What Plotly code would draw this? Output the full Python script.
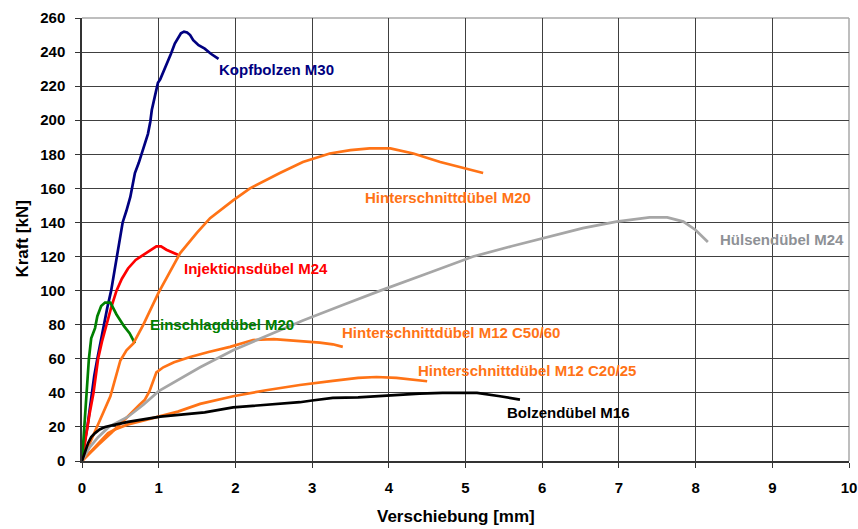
import plotly.graph_objects as go

# ---- data (Verschiebung [mm], Kraft [kN]) ----
kopf_x = [0, 0.03, 0.07, 0.1, 0.13, 0.16, 0.2, 0.24, 0.28, 0.33, 0.38, 0.42, 0.45, 0.49, 0.53, 0.58, 0.63, 0.66, 0.69, 0.74, 0.78, 0.82, 0.86, 0.89, 0.91, 0.95, 0.99, 1.02, 1.07, 1.12, 1.16, 1.21, 1.25, 1.29, 1.33, 1.37, 1.41, 1.45, 1.52, 1.6, 1.68, 1.78]
kopf_y = [0, 10, 20, 30, 40, 50, 60, 70, 80, 90, 100, 110, 120, 130, 140, 147, 155, 162, 169, 175, 181, 186, 192, 199, 206, 214, 222, 224, 229, 234, 239, 245, 248, 251, 252, 251.5, 250, 247, 244, 242, 239, 236]

inj_x = [0, 0.05, 0.1, 0.15, 0.21, 0.26, 0.32, 0.38, 0.45, 0.52, 0.6, 0.7, 0.8, 0.9, 0.97, 1.03, 1.1, 1.25]
inj_y = [0, 15, 28, 40, 60, 70, 80, 90, 100, 107, 113, 118, 121, 124, 126, 126, 124, 121]

ein_x = [0, 0.03, 0.06, 0.09, 0.12, 0.17, 0.2, 0.25, 0.3, 0.37, 0.45, 0.55, 0.62, 0.69]
ein_y = [0, 20, 40, 60, 72, 78, 85, 91, 93, 93, 86, 79, 75, 69]

hm20_x = [0, 0.12, 0.25, 0.37, 0.5, 0.58, 0.67, 0.8, 1.0, 1.28, 1.5, 1.67, 1.97, 2.19, 2.58, 2.88, 3.23, 3.5, 3.75, 4.02, 4.32, 4.67, 5.23]
hm20_y = [0, 12, 26, 38, 59, 65, 69, 80, 99, 122, 134, 142.5, 153, 160, 169, 175.5, 180.5, 182.5, 183.5, 183.5, 180.5, 175.5, 169]

c50_x = [0, 0.1, 0.21, 0.38, 0.51, 0.64, 0.75, 0.82, 0.88, 0.93, 0.97, 1.06, 1.2, 1.41, 1.65, 1.93, 2.23, 2.5, 2.84, 3.1, 3.27, 3.4]
c50_y = [0, 4.5, 9.4, 16.4, 22, 28, 33, 36, 41, 47, 52, 55, 58, 61, 64, 67, 71, 71.5, 70.5, 69.5, 68.5, 67]

c20_x = [0, 0.12, 0.25, 0.34, 0.43, 0.6, 0.82, 1.02, 1.25, 1.54, 1.97, 2.4, 2.84, 3.27, 3.6, 3.84, 4.1, 4.5]
c20_y = [0, 6, 12, 16.4, 18.5, 21.5, 24, 26.5, 29, 33.5, 38, 41.5, 44.6, 47, 48.8, 49.3, 48.8, 46.8]

hul_x = [0, 0.1, 0.21, 0.35, 0.6, 0.8, 1.0, 1.54, 1.97, 2.5, 2.88, 3.4, 3.89, 4.5, 5.1, 5.6, 6.06, 6.53, 6.97, 7.4, 7.63, 7.84, 8.0, 8.16]
hul_y = [0, 8, 14, 20, 26, 33, 41, 55, 65, 75, 82.5, 91.5, 100, 110, 120, 126, 131.5, 136.7, 140.5, 143, 143, 140.5, 135.6, 128.5]

bol_x = [0, 0.04, 0.08, 0.12, 0.17, 0.23, 0.3, 0.45, 0.6, 1.02, 1.25, 1.6, 1.97, 2.4, 2.84, 3.0, 3.27, 3.6, 4.02, 4.4, 4.7, 5.15, 5.45, 5.71]
bol_y = [0, 6, 10.6, 14, 16.4, 18.5, 20, 21.5, 23, 26, 27, 28.5, 31.5, 33, 34.5, 35.5, 37, 37.3, 38.5, 39.5, 40, 40, 38, 36]

series_names = ["Kopfbolzen M30", "Injektionsdübel M24", "Einschlagdübel M20",
                "Hinterschnittdübel M20", "Hinterschnittdübel M12 C50/60",
                "Hinterschnittdübel M12 C20/25", "Hülsendübel M24", "Bolzendübel M16"]

x_ticks = list(range(0, 11))
y_ticks = list(range(0, 261, 20))

ORANGE = "#FF7316"
series = [
    (kopf_x, kopf_y, "#000080", "#000080", (1.76, 230)),
    (inj_x, inj_y, "#FF0000", "#FF0000", (1.31, 113)),
    (ein_x, ein_y, "#008000", "#008000", (0.857, 80)),
    (hm20_x, hm20_y, ORANGE, ORANGE, (3.66, 154.5)),
    (c50_x, c50_y, ORANGE, ORANGE, (3.37, 75.3)),
    (c20_x, c20_y, ORANGE, ORANGE, (4.36, 53.4)),
    (hul_x, hul_y, "#A6A6A6", "#8E9196", (8.29, 130)),
    (bol_x, bol_y, "#000000", "#000000", (5.51, 28.3)),
]

FONT = "Liberation Sans, Arial"
fig = go.Figure()
annotations = []
for name, (xs, ys, col, tcol, (lx, ly)) in zip(series_names, series):
    fig.add_trace(go.Scatter(x=xs, y=ys, mode="lines", name=name,
                             line=dict(color=col, width=2.7), showlegend=False))
    annotations.append(dict(x=lx, y=ly, xref="x", yref="y", text="<b>%s</b>" % name,
                            showarrow=False, xanchor="left", yanchor="middle",
                            font=dict(family=FONT, size=15, color=tcol)))

annotations.append(dict(x=0.487, y=-0.1257, xref="paper", yref="paper",
                        text="<b>Verschiebung [mm]</b>", showarrow=False,
                        xanchor="center", yanchor="middle",
                        font=dict(family=FONT, size=17, color="black")))
annotations.append(dict(x=-0.0782, y=0.5, xref="paper", yref="paper",
                        text="<b>Kraft [kN]</b>", showarrow=False, textangle=-90,
                        xanchor="center", yanchor="middle",
                        font=dict(family=FONT, size=17, color="black")))

fig.add_shape(type="line", xref="paper", yref="paper", x0=0, x1=1, y0=1, y1=1,
              line=dict(color="#A8A8A8", width=1.5), layer="between")
fig.add_shape(type="line", xref="paper", yref="paper", x0=1, x1=1, y0=0, y1=1,
              line=dict(color="#A8A8A8", width=1.5), layer="between")

fig.update_layout(
    width=858, height=529,
    margin=dict(l=82, r=9, t=18, b=68, autoexpand=False),
    paper_bgcolor="white", plot_bgcolor="white",
    font=dict(family=FONT, color="black"),
    annotations=annotations,
)
fig.update_xaxes(range=[0, 10], tickvals=x_ticks, ticktext=["<b>%d</b>" % v for v in x_ticks],
                 showgrid=True, gridcolor="#404040", gridwidth=1,
                 showline=True, linecolor="#333333", linewidth=1.5,
                 ticks="outside", ticklen=5, tickcolor="#333333",
                 tickfont=dict(size=15, color="black"), ticklabelstandoff=7,
                 zeroline=False, automargin=False)
fig.update_yaxes(range=[0, 260], tickvals=y_ticks, ticktext=["<b>%d</b>" % v for v in y_ticks],
                 showgrid=True, gridcolor="#404040", gridwidth=1,
                 showline=True, linecolor="#333333", linewidth=1.5,
                 ticks="outside", ticklen=5, tickcolor="#333333",
                 tickfont=dict(size=15, color="black"), ticklabelstandoff=7,
                 zeroline=False, automargin=False)

fig.write_html("out.html")
